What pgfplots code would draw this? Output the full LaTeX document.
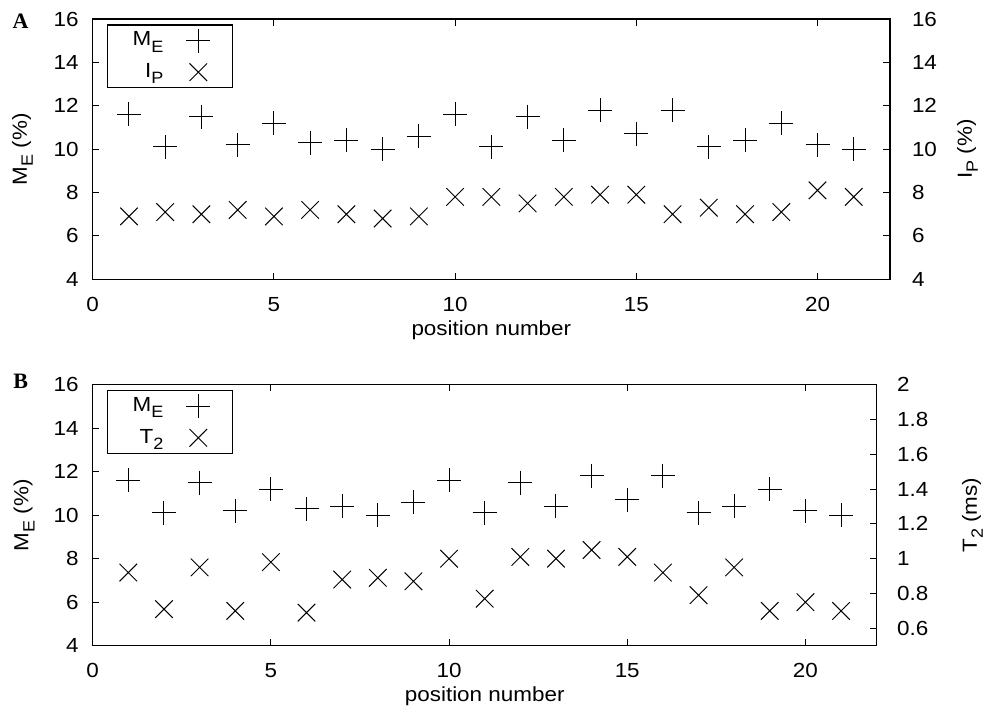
\documentclass[border=0pt]{standalone}
\usepackage{fontspec}
\setmainfont[FakeStretch=1.1]{Liberation Sans}
\newfontfamily\serifbold{Liberation Serif}
\usepackage{pgfplots}
\pgfplotsset{compat=1.18}
\newcommand\sub[1]{\raisebox{-0.3em}{\fontsize{8.2}{10}\selectfont #1}}

\pgfplotstableread{
x me ip t2
1 11.6 6.9 0.92
2 10.1 7.1 0.71
3 11.5 7.0 0.95
4 10.2 7.2 0.70
5 11.2 6.9 0.98
6 10.3 7.2 0.69
7 10.4 7.0 0.88
8 10.0 6.8 0.89
9 10.6 6.9 0.87
10 11.6 7.8 1.00
11 10.1 7.8 0.77
12 11.5 7.5 1.01
13 10.4 7.8 1.00
14 11.8 7.9 1.05
15 10.7 7.9 1.01
16 11.8 7.0 0.92
17 10.1 7.3 0.79
18 10.4 7.0 0.95
19 11.2 7.1 0.70
20 10.2 8.1 0.75
21 10.0 7.8 0.70
}\datatable

\begin{document}
\fontsize{10.2}{12}\selectfont
\begin{tikzpicture}
\pgfplotsset{
  base/.style={
    scale only axis, xmin=0, xmax=22,
    tick align=inside, major tick length=3.3pt,
    axis line style={line width=0.65pt},
    every tick/.style={line width=0.5pt, black},
    /pgf/number format/assume math mode=true,
    tick label style={font=\fontsize{10.2}{12}\selectfont},
    label style={font=\fontsize{10.2}{12}\selectfont},
    xtick={0,5,10,15,20},
    xticklabel style={anchor=north, inner sep=0pt, yshift=-8.7pt},
    every axis x label/.style={at={(axis description cs:0.5,0)}, anchor=north, inner sep=0pt, yshift=-20.3pt},
  },
  leftax/.style={
    base, ytick pos=left,
    yticklabel style={anchor=east, inner sep=0pt, xshift=-6.85pt},
    legend cell align=right, legend plot pos=right,
    legend image code/.code={\path[draw=none] (0pt,-6pt) rectangle (17pt,6pt); \draw[##1] plot coordinates {(8.5pt,0pt)};},
    legend style={at={(axis description cs:0,1)}, anchor=north west, xshift=7pt, yshift=-2.65pt,
      draw=black, line width=0.6pt, inner xsep=8.4pt, inner ysep=1.8pt, row sep=3.85pt,
      font=\fontsize{10.2}{12}\selectfont,
      nodes={inner sep=0pt},
      /tikz/every odd column/.append style={column sep=9pt}},
  },
  rightax/.style={
    base, axis x line=none, axis y line*=right,
    yticklabel style={anchor=west, inner sep=0pt},
  },
  pmark/.style={only marks, mark=+, mark size=6pt, mark options={line width=0.5pt, black}, black},
  xmark/.style={only marks, mark=x, mark size=6.2pt, mark options={line width=0.5pt, black}, black},
}

% ---------------- Panel A ----------------
\begin{axis}[leftax, at={(46.35pt,-139.65pt)}, anchor=south west,
  width=398.65pt, height=130.15pt,
  ymin=4, ymax=16, ytick={4,6,8,10,12,14,16},
  xlabel={position number},
  ylabel={M\sub{E} (\%)},
  every axis y label/.style={at={(axis description cs:-0.0745,0.5)}, rotate=90, anchor=south, inner sep=0pt},
]
\addplot[pmark] table[x=x, y=me] {\datatable};
\addlegendentry{\makebox[19.6pt][r]{M\sub{E}}}
\addlegendimage{xmark}
\addlegendentry{\makebox[19.6pt][r]{I\sub{P}}}
\end{axis}
\begin{axis}[rightax, at={(46.35pt,-139.65pt)}, anchor=south west,
  width=398.65pt, height=130.15pt,
  ymin=4, ymax=16, ytick={4,6,8,10,12,14,16},
  yticklabel style={xshift=10.8pt},
  ylabel={I\sub{P} (\%)},
  every axis y label/.style={at={(axis description cs:1.0835,0.5)}, rotate=90, anchor=north, inner sep=0pt},
]
\addplot[xmark] table[x=x, y=ip] {\datatable};
\end{axis}

% ---------------- Panel B ----------------
\begin{axis}[leftax, at={(46.35pt,-322.85pt)}, anchor=south west,
  width=392pt, height=130.55pt,
  ymin=4, ymax=16, ytick={4,6,8,10,12,14,16},
  xlabel={position number},
  ylabel={M\sub{E} (\%)},
  every axis y label/.style={at={(axis description cs:-0.0736,0.5)}, rotate=90, anchor=south, inner sep=0pt},
]
\addplot[pmark] table[x=x, y=me] {\datatable};
\addlegendentry{\makebox[19.6pt][r]{M\sub{E}}}
\addlegendimage{xmark}
\addlegendentry{\makebox[19.6pt][r]{T\sub{2}}}
\end{axis}
\begin{axis}[rightax, at={(46.35pt,-322.85pt)}, anchor=south west,
  width=392pt, height=130.55pt,
  ymin=0.5, ymax=2, ytick={0.6,0.8,1,1.2,1.4,1.6,1.8,2},
  yticklabel style={xshift=10pt},
  ylabel={T\sub{2} (ms)},
  every axis y label/.style={at={(axis description cs:1.1084,0.5)}, rotate=90, anchor=north, inner sep=0pt},
]
\addplot[xmark] table[x=x, y=t2] {\datatable};
\end{axis}

\node[font=\serifbold\bfseries\fontsize{11}{12}\selectfont] at (10.25pt,-10.4pt) {A};
\node[font=\serifbold\bfseries\fontsize{11}{12}\selectfont] at (10.4pt,-190.5pt) {B};

\pgfresetboundingbox
\useasboundingbox (0pt,-353.5pt) rectangle (493pt,0pt);
\end{tikzpicture}
\end{document}
